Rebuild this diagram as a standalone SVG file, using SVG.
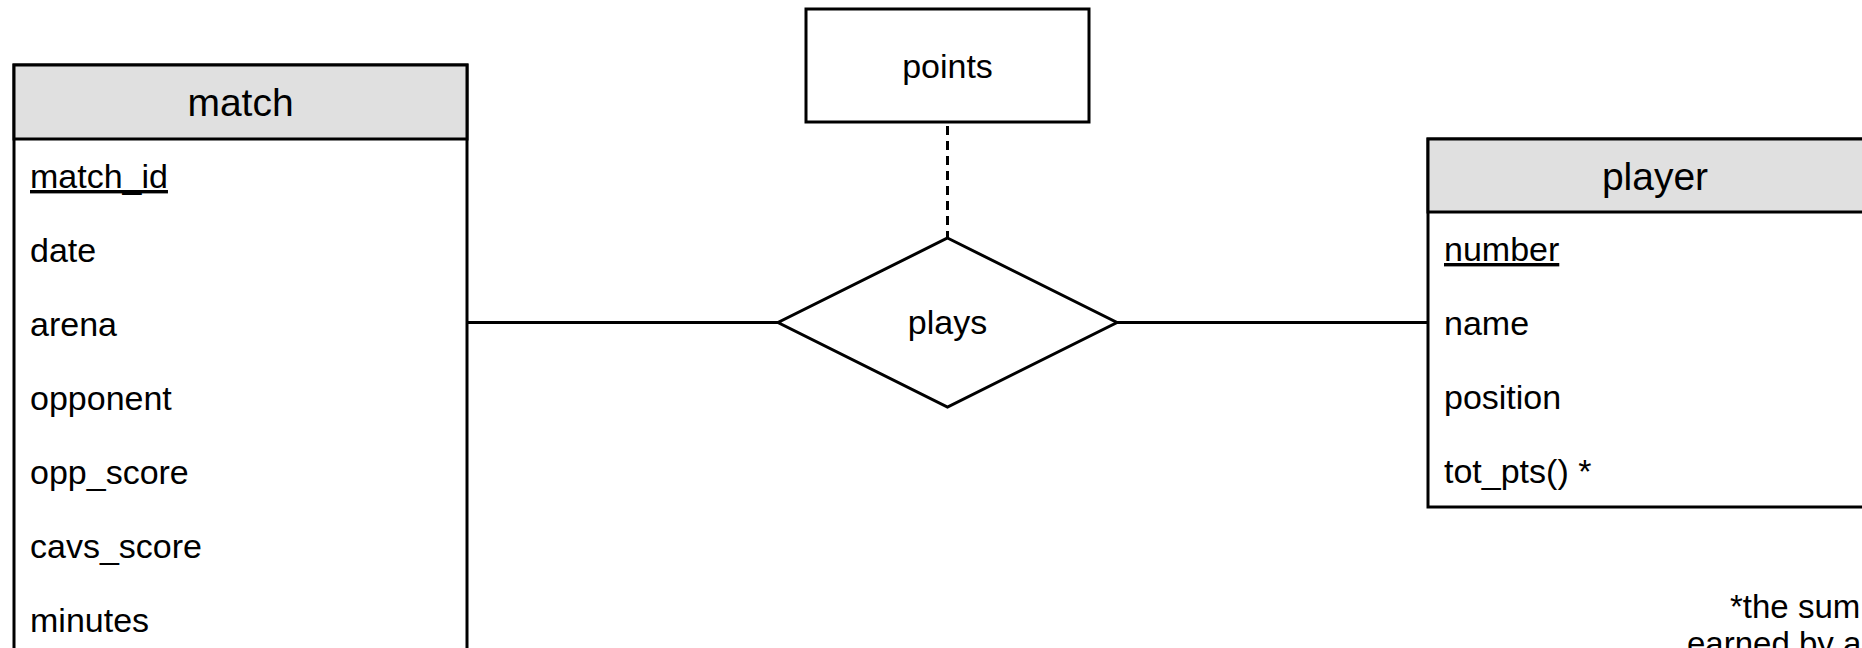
<svg xmlns="http://www.w3.org/2000/svg" width="1862" height="648" viewBox="0 0 1862 648">
<style>
.box{fill:#ffffff;stroke:#000000;stroke-width:3}
.hdr{fill:#e0e0e0;stroke:#000000;stroke-width:3}
.ln{fill:none;stroke:#000000;stroke-width:3}
.dash{fill:none;stroke:#000000;stroke-width:3;stroke-dasharray:9 6}
text{font-family:"Liberation Sans",Arial,Helvetica,sans-serif;fill:#000000}
.h{font-size:39px;text-anchor:middle}
.r{font-size:34px}
.n{font-size:33px}
.c{font-size:34px;text-anchor:middle}
.u{text-decoration:underline}
</style>
<rect width="1862" height="648" fill="#ffffff"/>
<g id="connectors">
<line class="ln" x1="467" y1="322.5" x2="778" y2="322.5"/>
<line class="ln" x1="1117" y1="322.5" x2="1428" y2="322.5"/>
<line class="dash" x1="947.5" y1="126" x2="947.5" y2="238"/>
</g>
<g id="match">
<rect class="box" x="14" y="65" width="453" height="620"/>
<rect class="hdr" x="14" y="65" width="453" height="74"/>
<text class="h" x="240.5" y="116">match</text>
<text class="r u" x="30" y="188">match_id</text>
<text class="r" x="30" y="262">date</text>
<text class="r" x="30" y="336">arena</text>
<text class="r" x="30" y="410">opponent</text>
<text class="r" x="30" y="484">opp_score</text>
<text class="r" x="30" y="558">cavs_score</text>
<text class="r" x="30" y="632">minutes</text>
</g>
<g id="player">
<rect class="box" x="1428" y="139" width="454" height="368"/>
<rect class="hdr" x="1428" y="139" width="454" height="73"/>
<text class="h" x="1655" y="190">player</text>
<text class="r u" x="1444" y="261">number</text>
<text class="r" x="1444" y="335">name</text>
<text class="r" x="1444" y="409">position</text>
<text class="r" x="1444" y="483">tot_pts() *</text>
</g>
<g id="points">
<rect class="box" x="806" y="9" width="283" height="113"/>
<text class="c" x="947.5" y="78">points</text>
</g>
<g id="plays">
<polygon class="box" points="947.5,238 1117,322.5 947.5,407 778,322.5"/>
<text class="c" x="947.5" y="334">plays</text>
</g>
<g id="note">
<text class="n" x="1730" y="618">*the sum</text>
<text class="n" x="1687" y="655">earned by a</text>
</g>
</svg>
